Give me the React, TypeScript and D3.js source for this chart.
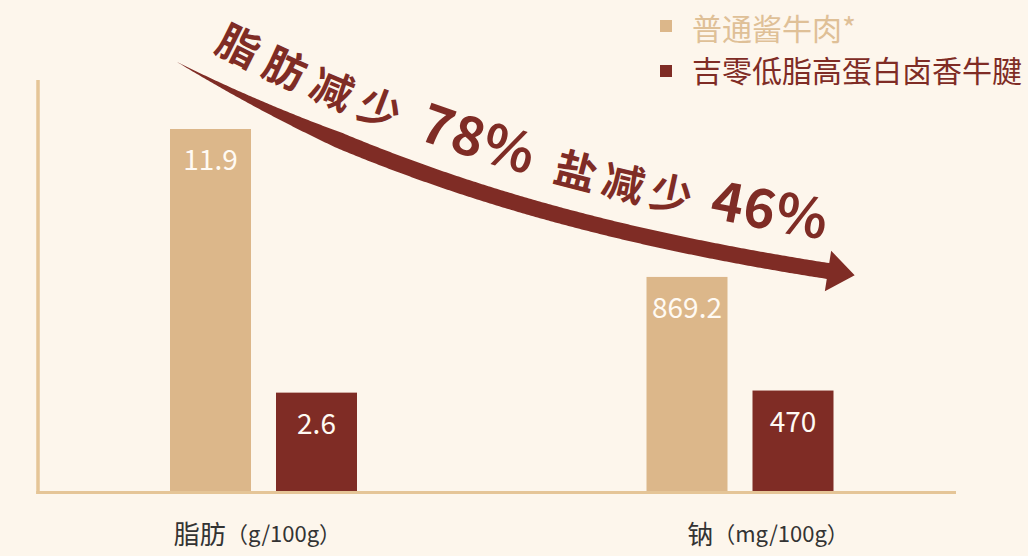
import React from "react";
import * as d3 from "d3";

// ---------- data ----------
const groups = ["脂肪", "钠"];
const groupUnits = ["（g/100g）", "（mg/100g）"];
const seriesNames = ["普通酱牛肉*", "吉零低脂高蛋白卤香牛腱"];
const regularValues = [11.9, 869.2];
const jilingValues = [2.6, 470];
// each group has its own value axis (floor / ceiling)
const groupDomains: [number, number][] = [
  [-0.87, 11.9],
  [117, 1389],
];
const headlineCjk = ["脂肪减少", "盐减少"];
const headlineNum = ["78%", "46%"];

// ---------- layout ----------
const W = 1028;
const H = 556;
const axisX = 38;
const axisTop = 80;
const baseY = 491;
const axisRight = 956;
const plotTop = 129;
const groupCenters: [number, number] = [263.5, 740];
const labelShift = [-6, 28];
const C = {
  bg: "#fdf6ec",
  tan: "#dcb78a",
  red: "#7f2c25",
  axis: "#e5c597",
  legendTan: "#dfc097",
  text: "#333333",
};
const FONT = "'Noto Sans CJK SC', 'Noto Sans', sans-serif";

// arrow centreline (cubic bezier) and style
const A0: [number, number] = [177, 62];
const A1: [number, number] = [377, 172];
const A2: [number, number] = [578, 232];
const A3: [number, number] = [828, 271];
const arrowWidth = 16;
const headLen = 27;
const headHalf = 20.5;
const textLift = 31;
const textStartsX = [213, 416, 551, 708];
const cjkSpacing = [10, 7.5];

function bez(t: number): [number, number] {
  const u = 1 - t;
  const a = u * u * u, b = 3 * u * u * t, c = 3 * u * t * t, d = t * t * t;
  return [
    a * A0[0] + b * A1[0] + c * A2[0] + d * A3[0],
    a * A0[1] + b * A1[1] + c * A2[1] + d * A3[1],
  ];
}
function bezD(t: number): [number, number] {
  const u = 1 - t;
  const dx = 3 * u * u * (A1[0] - A0[0]) + 6 * u * t * (A2[0] - A1[0]) + 3 * t * t * (A3[0] - A2[0]);
  const dy = 3 * u * u * (A1[1] - A0[1]) + 6 * u * t * (A2[1] - A1[1]) + 3 * t * t * (A3[1] - A2[1]);
  const l = Math.hypot(dx, dy);
  return [dx / l, dy / l];
}

export default function App() {
  const { arrowPath, textPathD, offsets } = React.useMemo(() => {
    const ts = d3.range(0, 1.00001, 1 / 300);
    const upper: [number, number][] = [];
    const lower: [number, number][] = [];
    ts.forEach((t) => {
      const p = bez(t);
      const d = bezD(t);
      const n: [number, number] = [-d[1], d[0]];
      const w = (arrowWidth / 2) * Math.min(1, t / 0.27);
      upper.push([p[0] - n[0] * w, p[1] - n[1] * w]);
      lower.push([p[0] + n[0] * w, p[1] + n[1] * w]);
    });
    const dEnd = bezD(1);
    const nEnd: [number, number] = [-dEnd[1], dEnd[0]];
    const head: [number, number][] = [
      [A3[0] - nEnd[0] * headHalf, A3[1] - nEnd[1] * headHalf],
      [A3[0] + dEnd[0] * headLen, A3[1] + dEnd[1] * headLen],
      [A3[0] + nEnd[0] * headHalf, A3[1] + nEnd[1] * headHalf],
    ];
    const poly = [...upper, ...head, ...lower.reverse()];
    const line = d3.line().curve(d3.curveLinearClosed);
    const arrowPath = line(poly) || "";

    const tp = d3.path();
    tp.moveTo(A0[0], A0[1] - textLift);
    tp.bezierCurveTo(A1[0], A1[1] - textLift, A2[0], A2[1] - textLift, A3[0] + 60, A3[1] + 10 - textLift);
    const textPathD = tp.toString();

    // arc lengths
    const fine = d3.range(0, 1.00001, 1 / 2000);
    let acc = 0;
    let prev = bez(0);
    const cum = fine.map((t) => {
      const p = bez(t);
      acc += Math.hypot(p[0] - prev[0], p[1] - prev[1]);
      prev = p;
      return { x: p[0], s: acc };
    });
    const offsets = textStartsX.map((x) => {
      const f = cum.find((c) => c.x >= x);
      return f ? f.s : acc;
    });
    return { arrowPath, textPathD, offsets };
  }, []);

  const xGroup = d3.scalePoint<string>().domain(groups).range(groupCenters);
  const xInner = d3
    .scaleBand<number>()
    .domain([0, 1])
    .range([-93.5, 93.5])
    .paddingInner(25 / 106);
  const yScales = groupDomains.map((dom) => d3.scaleLinear().domain(dom).range([baseY, plotTop]));

  const seriesVals = [regularValues, jilingValues];
  const seriesColors = [C.tan, C.red];

  return (
    <>
      <style>{`html,body{margin:0;padding:0;background:${C.bg};}`}</style>
      <svg width={W} height={H} style={{ display: "block", background: C.bg }} fontFamily={FONT}>
        {/* axes */}
        <line x1={axisX} x2={axisX} y1={axisTop} y2={baseY + 3} stroke={C.axis} strokeWidth={3.5} />
        <line x1={axisX - 1.75} x2={axisRight} y1={baseY + 1.5} y2={baseY + 1.5} stroke={C.axis} strokeWidth={3} />

        {/* bars */}
        {groups.map((g, gi) =>
          seriesVals.map((vals, si) => {
            const y = yScales[gi];
            const x = (xGroup(g) as number) + (xInner(si) as number);
            const top = y(vals[gi]);
            return (
              <g key={g + si}>
                <rect x={x} y={top} width={xInner.bandwidth()} height={baseY - top} fill={seriesColors[si]} />
                <text
                  x={x + xInner.bandwidth() / 2}
                  y={top + 29}
                  textAnchor="middle"
                  dominantBaseline="central"
                  fontSize={28}
                  fill="#fffaf3"
                >
                  {String(vals[gi])}
                </text>
              </g>
            );
          })
        )}

        {/* category labels */}
        {groups.map((g, gi) => (
          <text
            key={g}
            x={(xGroup(g) as number) + labelShift[gi]}
            y={532}
            textAnchor="middle"
            dominantBaseline="central"
            fill={C.text}
          >
            <tspan fontSize={26}>{g}</tspan>
            <tspan fontSize={22}>{groupUnits[gi]}</tspan>
          </text>
        ))}

        {/* legend */}
        {seriesNames.map((name, i) => (
          <g key={name}>
            <rect x={660} y={i === 0 ? 20 : 65} width={12} height={12} fill={seriesColors[i]} />
            <text
              x={692}
              y={i === 0 ? 27 : 69}
              dominantBaseline="central"
              fontSize={30}
              fill={i === 0 ? C.legendTan : C.red}
            >
              {name}
            </text>
          </g>
        ))}

        {/* arrow */}
        <path d={arrowPath} fill={C.red} />
        <defs>
          <path id="headline-path" d={textPathD} />
        </defs>
        {[0, 1].map((k) => (
          <g key={k}>
            <text fontSize={42} fontWeight={700} fill={C.red} letterSpacing={cjkSpacing[k]}>
              <textPath href="#headline-path" startOffset={offsets[k * 2]}>
                {headlineCjk[k]}
              </textPath>
            </text>
            <text fontSize={54} fontWeight={700} fill={C.red} letterSpacing={1}>
              <textPath href="#headline-path" startOffset={offsets[k * 2 + 1]}>
                {headlineNum[k]}
              </textPath>
            </text>
          </g>
        ))}
      </svg>
    </>
  );
}
